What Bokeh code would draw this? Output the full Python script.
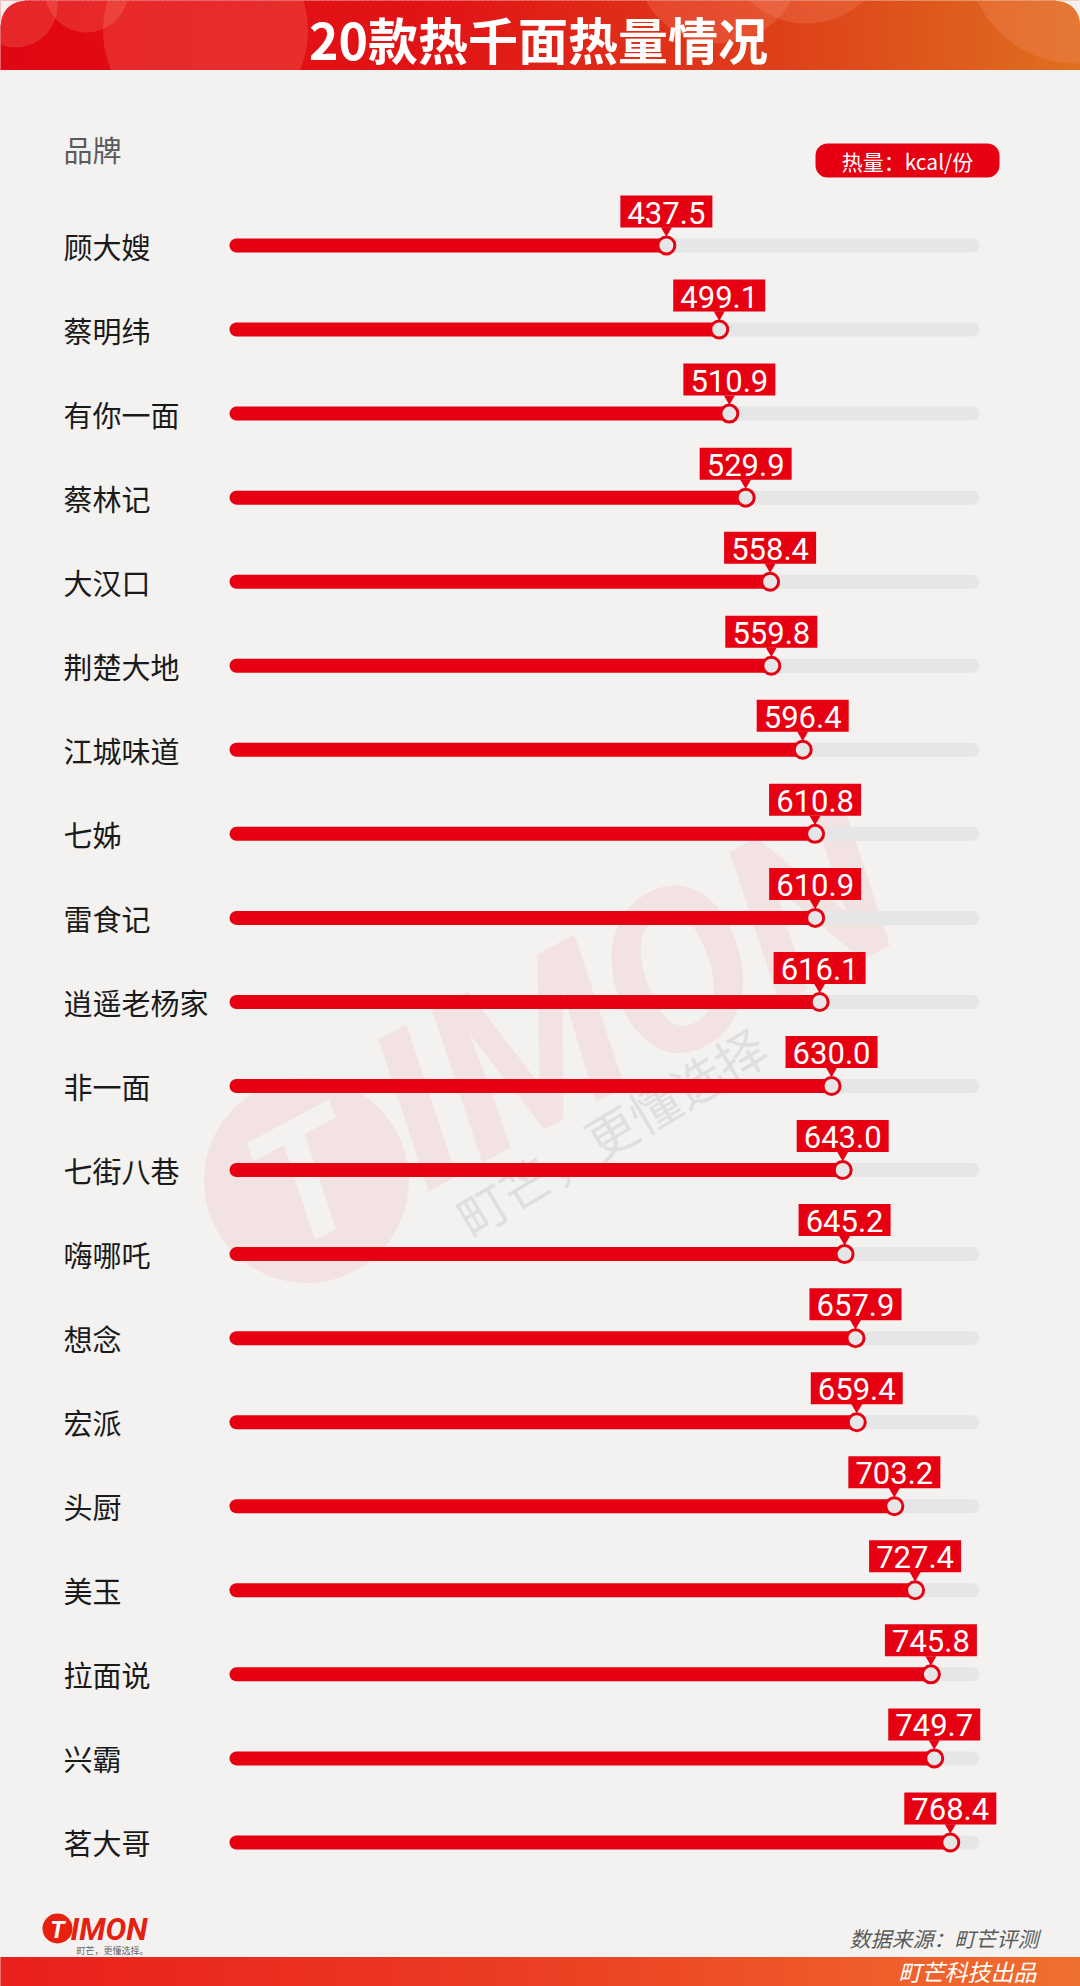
import numpy as np
from bokeh.plotting import figure
from bokeh.models import Range1d, BoxAnnotation, Label
from bokeh.core.properties import value
from bokeh.embed import file_html
from bokeh.resources import INLINE

# ---------------- data ----------------
brands = ["顾大嫂", "蔡明纬", "有你一面", "蔡林记", "大汉口", "荆楚大地", "江城味道",
          "七姊", "雷食记", "逍遥老杨家", "非一面", "七街八巷", "嗨哪吒", "想念",
          "宏派", "头厨", "美玉", "拉面说", "兴霸", "茗大哥"]
calories = [437.5, 499.1, 510.9, 529.9, 558.4, 559.8, 596.4, 610.8, 610.9, 616.1,
            630.0, 643.0, 645.2, 657.9, 659.4, 703.2, 727.4, 745.8, 749.7, 768.4]
value_labels = [f"{v:.1f}" for v in calories]
title_text = "20款热千面热量情况"
axis_title = "品牌"
unit_label = "热量：kcal/份"
source_text = "数据来源：町芒评测"
footer_text = "町芒科技出品"
watermark_sub = "町芒，更懂选择"
logo_sub = "町芒，更懂选择。"

# ---------------- layout / style ----------------
W, H = 1080, 1986
X0, XS = 290.5, 0.858     # pixel of 0 kcal, pixels per kcal
Y0, YS = 245.0, 84.05     # pixel of first row, pixels per row
BG = "#f3f2f0"
RED = "#e60012"
TRACK = "#e6e6e6"
CJK = "Noto Sans CJK SC"


def dx(px):
    return (px - X0) / XS


def dy(py):
    return (py - Y0) / YS


p = figure(width=W, height=H, x_range=Range1d(dx(0), dx(W)), y_range=Range1d(dy(H), dy(0)),
           output_backend="svg", toolbar_location=None,
           x_axis_location=None, y_axis_location=None,
           min_border=0, min_border_left=0, min_border_right=0, min_border_top=0, min_border_bottom=0,
           background_fill_color=BG, border_fill_color=BG, outline_line_color=None)
p.title.visible = False
p.grid.visible = False


def lerp_color(stops, t):
    xs = [s[0] for s in stops]
    r = np.interp(t, xs, [s[1][0] for s in stops])
    g = np.interp(t, xs, [s[1][1] for s in stops])
    b = np.interp(t, xs, [s[1][2] for s in stops])
    return ["#%02x%02x%02x" % (int(a), int(bb), int(c)) for a, bb, c in zip(r, g, b)]


# ---------------- header ----------------
HB = 70
edges = np.linspace(0, W, 217)
mids = (edges[:-1] + edges[1:]) / 2
hcols = lerp_color([(0, (226, 6, 19)), (450, (225, 22, 22)), (780, (222, 65, 26)), (1080, (222, 112, 32))], mids)
p.quad(left=[dx(e) for e in edges[:-1]], right=[dx(e) for e in edges[1:]],
       top=dy(0), bottom=dy(HB), fill_color=hcols, line_color=hcols, line_width=1)

circ_px = [(15, 5, 84), (86, -10, 84), (205, 30, 205), (718, -40, 166), (806, -60, 166), (1075, -45, 216)]
p.scatter(x=[dx(c[0]) for c in circ_px], y=[dy(c[1]) for c in circ_px], size=[c[2] for c in circ_px],
          marker="circle", fill_color="#ff9a80", fill_alpha=0.22, line_color=None)

# cover below header
p.quad(left=dx(0), right=dx(W), top=dy(HB), bottom=dy(H), fill_color=BG, line_color=BG)

# rounded top corners
R = 24
a = np.linspace(0, np.pi / 2, 20)
tl_x = [0] + list(R - R * np.cos(a))
tl_y = [0] + list(R - R * np.sin(a))
tr_x = [W] + list(W - R + R * np.cos(a))
tr_y = [0] + list(R - R * np.sin(a))
p.patches(xs=[[dx(v) for v in tl_x], [dx(v) for v in tr_x]],
          ys=[[dy(v) for v in tl_y], [dy(v) for v in tr_y]],
          fill_color=BG, line_color=BG)

p.text(x=[dx(538)], y=[dy(37)], text=[title_text], text_font=value(CJK), text_font_style="bold",
       text_font_size="50px", text_color="white", text_align="center", text_baseline="middle")

# ---------------- watermark ----------------
p.scatter(x=[dx(306)], y=[dy(1180)], size=205, marker="circle", fill_color=RED, fill_alpha=0.06, line_color=None)
p.text(x=[dx(306)], y=[dy(1180)], text=["T"], angle=0.49, text_font=value("Roboto"),
       text_font_style="bold italic", text_font_size="165px", text_color=BG,
       text_align="center", text_baseline="middle")
p.text(x=[dx(632)], y=[dy(996)], text=["IMON"], angle=0.49, text_font=value("Roboto"),
       text_font_style="bold italic", text_font_size="222px", text_color=RED, text_alpha=0.06,
       text_align="center", text_baseline="middle")
p.text(x=[dx(610)], y=[dy(1130)], text=[watermark_sub], angle=0.54, text_font=value(CJK),
       text_font_size="50px", text_color="#9a9a9a", text_alpha=0.22,
       text_align="center", text_baseline="middle")

# ---------------- bars ----------------
idx = list(range(len(brands)))
track_start = dx(236)
track_end = dx(972)
p.segment(x0=[track_start] * len(idx), y0=idx, x1=[track_end] * len(idx), y1=idx,
          line_width=14, line_cap="round", line_color=TRACK)
p.segment(x0=[track_start] * len(idx), y0=idx, x1=calories, y1=idx,
          line_width=14, line_cap="round", line_color=RED)
p.scatter(x=calories, y=idx, marker="circle", size=17, fill_color=TRACK, line_color=RED, line_width=3)

# value tags
p.rect(x=calories, y=[i - 34 / YS for i in idx], width=92, height=32,
       width_units="screen", height_units="screen", fill_color=RED, line_color=None)
p.scatter(x=calories, y=[i - 15 / YS for i in idx], marker="inverted_triangle", size=11,
          fill_color=RED, line_color=None)
p.text(x=calories, y=[i - 33 / YS for i in idx], text=value_labels, text_font=value("Roboto"),
       text_font_size="31px", text_color="white", text_align="center", text_baseline="middle")

# brand labels
p.text(x=[dx(63)] * len(idx), y=idx, text=brands, text_font=value(CJK), text_font_size="29px",
       text_color="#1a1a1a", text_align="left", text_baseline="middle")
p.text(x=[dx(63)], y=[dy(148)], text=[axis_title], text_font=value(CJK), text_font_size="29px",
       text_color="#5a5a5a", text_align="left", text_baseline="middle")

# ---------------- footer ----------------
FT = 1957
fcols = lerp_color([(0, (234, 32, 28)), (500, (236, 60, 35)), (1080, (240, 112, 48))], mids)
p.quad(left=[dx(e) for e in edges[:-1]], right=[dx(e) for e in edges[1:]],
       top=dy(FT), bottom=dy(H), fill_color=fcols, line_color=fcols, line_width=1)
p.text(x=[dx(1036)], y=[dy(1970)], text=[footer_text], text_font=value(CJK), text_font_style="italic",
       text_font_size="23px", text_color="white", text_align="right", text_baseline="middle")
p.text(x=[dx(1038)], y=[dy(1937)], text=[source_text], text_font=value(CJK), text_font_style="italic",
       text_font_size="21px", text_color="#5a5a5a", text_align="right", text_baseline="middle")

# logo
p.scatter(x=[dx(57)], y=[dy(1928)], marker="circle", size=30, fill_color="#e8200f", line_color=None)
p.text(x=[dx(57)], y=[dy(1929)], text=["T"], text_font=value("Roboto"), text_font_style="bold italic",
       text_font_size="24px", text_color="white", text_align="center", text_baseline="middle")
p.text(x=[dx(70)], y=[dy(1929)], text=["IMON"], text_font=value("Roboto"), text_font_style="bold italic",
       text_font_size="31px", text_color="#e62010", text_align="left", text_baseline="middle")
p.text(x=[dx(76)], y=[dy(1950)], text=[logo_sub], text_font=value(CJK),
       text_font_size="9px", text_color="#666666", text_align="left", text_baseline="middle")

# unit legend box
p.add_layout(BoxAnnotation(left=dx(815), right=dx(999), top=dy(143), bottom=dy(177),
                           fill_color=RED, fill_alpha=1.0, line_color=None, border_radius=12))
p.add_layout(Label(x=dx(907), y=dy(160), text=unit_label, text_font=CJK, text_font_size="21px",
                   text_color="white", text_align="center", text_baseline="middle"))

open("out.html", "w").write(file_html(p, INLINE))
